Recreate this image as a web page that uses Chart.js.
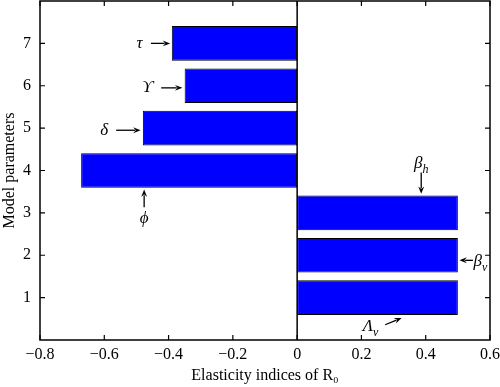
<!DOCTYPE html>
<html lang="en">
  <head>
    <meta charset="UTF-8" />
    <title>Elasticity indices of R0</title>
    <script src="https://cdn.jsdelivr.net/npm/chart.js"></script>
    <style>
      html, body { margin: 0; padding: 0; background: #fff; }
      #wrap { width: 500px; height: 387px; }
    </style>
  </head>
  <body>
    <div id="wrap"><canvas id="elasticityChart" width="500" height="387"></canvas></div>
    <script>
      // data
      const positions = [1, 2, 3, 4, 5, 6, 7];
      const elasticity = [0.5, 0.5, 0.5, -0.672, -0.48, -0.35, -0.39];
      const xTicks = [-0.8, -0.6, -0.4, -0.2, 0, 0.2, 0.4, 0.6];
      const yTicks = [1, 2, 3, 4, 5, 6, 7];

      // annotation labels: symbol, subscript, label x/y, arrow from x/y, arrow to x/y (data units)
      const noteSymbols = ["τ", "ϒ", "δ", "ϕ", "β", "β", "Λ"];
      const noteSubs = ["", "", "", "", "h", "v", "v"];
      const noteAt = [[-0.49, 7], [-0.465, 5.95], [-0.6, 4.95], [-0.476, 2.87], [0.386, 4.16], [0.57, 1.84], [0.228, 0.31]];
      const arrowFrom = [[-0.455, 7], [-0.423, 5.95], [-0.563, 4.95], [-0.476, 3.13], [0.386, 3.95], [0.547, 1.88], [0.274, 0.36]];
      const arrowTo = [[-0.395, 7], [-0.357, 5.95], [-0.487, 4.95], [-0.476, 3.55], [0.386, 3.45], [0.505, 1.88], [0.325, 0.52]];

      const serif = "'Liberation Serif', 'DejaVu Serif', serif";
      const fmt = (v) => (v < 0 ? "\u2212" + Math.abs(v) : String(v));

      function arrow(ctx, x1, y1, x2, y2) {
        const a = Math.atan2(y2 - y1, x2 - x1);
        const h = 8;
        ctx.beginPath();
        ctx.moveTo(x1, y1);
        ctx.lineTo(x2 - Math.cos(a) * h * 0.7, y2 - Math.sin(a) * h * 0.7);
        ctx.stroke();
        ctx.beginPath();
        ctx.moveTo(x2, y2);
        ctx.lineTo(x2 - h * Math.cos(a - 0.38), y2 - h * Math.sin(a - 0.38));
        ctx.lineTo(x2 - h * 0.6 * Math.cos(a), y2 - h * 0.6 * Math.sin(a));
        ctx.lineTo(x2 - h * Math.cos(a + 0.38), y2 - h * Math.sin(a + 0.38));
        ctx.closePath();
        ctx.fill();
      }

      const framePlugin = {
        id: "frame",
        afterDatasetsDraw(chart) {
          const { ctx, chartArea: ca, scales } = chart;
          const xs = scales.x, ys = scales.y;
          ctx.save();
          ctx.strokeStyle = "#000";
          ctx.fillStyle = "#000";
          ctx.lineWidth = 1.5;
          ctx.strokeRect(ca.left, ca.top, ca.right - ca.left, ca.bottom - ca.top);
          // zero line
          const x0 = xs.getPixelForValue(0);
          ctx.beginPath();
          ctx.moveTo(x0, ca.top);
          ctx.lineTo(x0, ca.bottom);
          ctx.stroke();
          // inward ticks
          const t = 5;
          ctx.lineWidth = 1.2;
          ctx.beginPath();
          xTicks.forEach((v) => {
            const px = xs.getPixelForValue(v);
            ctx.moveTo(px, ca.bottom); ctx.lineTo(px, ca.bottom - t);
            ctx.moveTo(px, ca.top); ctx.lineTo(px, ca.top + t);
          });
          yTicks.forEach((v) => {
            const py = ys.getPixelForValue(v);
            ctx.moveTo(ca.left, py); ctx.lineTo(ca.left + t, py);
            ctx.moveTo(ca.right, py); ctx.lineTo(ca.right - t, py);
          });
          ctx.stroke();
          // annotations
          ctx.lineWidth = 1.3;
          noteSymbols.forEach((s, i) => {
            const fx = xs.getPixelForValue(arrowFrom[i][0]);
            const fy = ys.getPixelForValue(arrowFrom[i][1]);
            const tx = xs.getPixelForValue(arrowTo[i][0]);
            const ty = ys.getPixelForValue(arrowTo[i][1]);
            arrow(ctx, fx, fy, tx, ty);
            const lx = xs.getPixelForValue(noteAt[i][0]);
            const ly = ys.getPixelForValue(noteAt[i][1]);
            ctx.font = "italic 17px " + serif;
            ctx.textBaseline = "middle";
            ctx.textAlign = "left";
            const w = ctx.measureText(s).width;
            const sub = noteSubs[i];
            let sw = 0;
            if (sub) {
              ctx.font = "italic 12px " + serif;
              sw = ctx.measureText(sub).width;
            }
            const start = lx - (w + sw) / 2;
            ctx.font = "italic 17px " + serif;
            ctx.fillText(s, start, ly);
            if (sub) {
              ctx.font = "italic 12px " + serif;
              ctx.fillText(sub, start + w, ly + 6);
            }
          });
          ctx.restore();
        },
      };

      new Chart(document.getElementById("elasticityChart"), {
        type: "bar",
        data: {
          datasets: [
            {
              data: positions.map((p, i) => ({ x: elasticity[i], y: p })),
              backgroundColor: "#0000ff",
              borderColor: "#000",
              borderWidth: 1,
              borderSkipped: false,
              categoryPercentage: 1,
              barPercentage: 0.82,
            },
          ],
        },
        options: {
          indexAxis: "y",
          responsive: false,
          animation: false,
          layout: { padding: { top: 1, right: 10, left: 0, bottom: 0 } },
          plugins: { legend: { display: false }, tooltip: { enabled: false } },
          scales: {
            x: {
              type: "linear",
              min: -0.8,
              max: 0.6,
              offset: false,
              grid: { display: false, drawTicks: false },
              border: { display: false },
              afterFit: (scale) => {
                scale.height = 47;
                scale.paddingLeft = 0;
                scale.paddingRight = 0;
              },
              ticks: {
                stepSize: 0.2,
                padding: 5,
                color: "#000",
                font: { family: serif, size: 16 },
                callback: (v) => fmt(Math.round(v * 10) / 10),
              },
              title: {
                display: true,
                text: "Elasticity indices of R\u2080",
                color: "#000",
                font: { family: serif, size: 16 },
                padding: { top: 2, bottom: 2 },
              },
            },
            y: {
              type: "linear",
              min: 0,
              max: 8,
              offset: false,
              grid: { display: false, drawTicks: false },
              border: { display: false },
              afterBuildTicks: (scale) => { scale.ticks = yTicks.map((v) => ({ value: v })); },
              afterFit: (scale) => {
                scale.width = 40;
                scale.paddingTop = 0;
                scale.paddingBottom = 0;
              },
              ticks: {
                padding: 9,
                color: "#000",
                font: { family: serif, size: 16 },
                callback: (v) => String(v),
              },
              title: {
                display: true,
                text: "Model parameters",
                color: "#000",
                font: { family: serif, size: 16 },
                padding: { top: 0, bottom: 2 },
              },
            },
          },
        },
        plugins: [framePlugin],
      });
    </script>
  </body>
</html>
